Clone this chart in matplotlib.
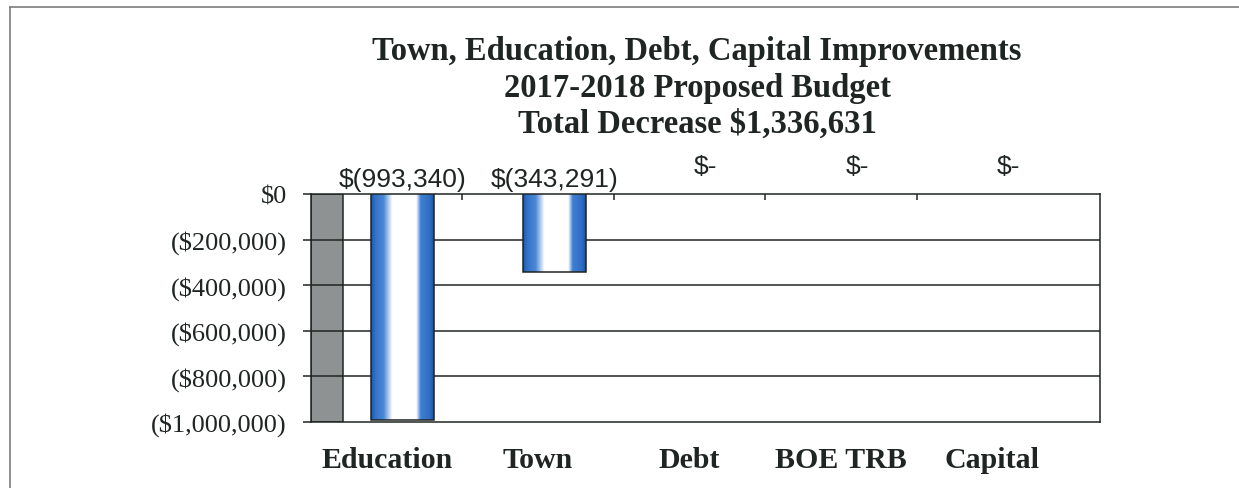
import numpy as np
import matplotlib.pyplot as plt
from matplotlib.colors import LinearSegmentedColormap
from matplotlib.patches import Rectangle
from matplotlib.lines import Line2D
from matplotlib import transforms

# budget changes by area
categories = ['Education', 'Town', 'Debt', 'BOE TRB', 'Capital']
changes = [-993340, -343291, 0, 0, 0]
value_labels = ['$(993,340)', '$(343,291)', '$-', '$-', '$-']

y_ticks = [0, -200000, -400000, -600000, -800000, -1000000]
y_tick_labels = ['$0', '($200,000)', '($400,000)', '($600,000)',
                 '($800,000)', '($1,000,000)']

title_lines = ['Town, Education, Debt, Capital Improvements',
               '2017-2018 Proposed Budget',
               'Total Decrease $1,336,631']

W, H = 1239, 489
ink = '#1f2522'
serif = 'Liberation Serif'
sans = 'Liberation Sans'

fig = plt.figure(figsize=(W / 100, H / 100), dpi=100)
fig.patch.set_facecolor('white')

# plot area in pixels
left_px, right_px = 311, 1100
top_px, bottom_px = 195, 422.5
ax = fig.add_axes([left_px / W, 1 - bottom_px / H,
                   (right_px - left_px) / W, (bottom_px - top_px) / H])

cat_px = 151.4           # width of one category slot
depth = 32 / cat_px      # side wall depth
bar_w = 63 / cat_px
xmax = -0.5 + (right_px - left_px) / cat_px

# side wall
ax.add_patch(Rectangle((-0.5, -1000000), depth, 1000000, facecolor='#8e9292',
                       edgecolor=ink, lw=1.1, zorder=1))

for y in y_ticks[1:-1]:
    ax.axhline(y, color=ink, lw=1.1, zorder=2)

# bars with the blue/white gradient fill
grad = LinearSegmentedColormap.from_list('bar', [
    (0.0, '#1d56a8'), (0.07, '#3373c8'), (0.2, '#4a88d6'),
    (0.34, '#ffffff'), (0.72, '#ffffff'), (0.79, '#3f7fd2'),
    (0.94, '#2e6cc2'), (1.0, '#1d52a0')])
row = np.linspace(0, 1, 256)[None, :]
for i, v in enumerate(changes):
    if v == 0:
        continue
    x0 = i - bar_w / 2 + depth / 2
    ax.imshow(row, cmap=grad, extent=(x0, x0 + bar_w, v, 0), aspect='auto',
              interpolation='bilinear', zorder=3)
    ax.add_patch(Rectangle((x0, v), bar_w, -v, facecolor='none',
                           edgecolor=ink, lw=1.1, zorder=4))

for i, (v, lab) in enumerate(zip(changes, value_labels)):
    off = 15 if v != 0 else 28
    ax.annotate(lab, xy=(i + depth / 2, 0), xytext=(0, off),
                textcoords='offset pixels', ha='center', va='center',
                fontsize=19, family=sans, color=ink, annotation_clip=False)

ax.set_xlim(-0.5, xmax)
ax.set_ylim(-1000000, 0)

for s in ax.spines.values():
    s.set_color(ink)
    s.set_linewidth(1.1)

ax.set_yticks(y_ticks, y_tick_labels)
ax.tick_params(axis='y', length=5.8, width=1.1, color=ink, pad=11.5,
               labelsize=19, labelcolor=ink)
for t in ax.get_yticklabels():
    t.set_family(serif)

# category boundary ticks on the zero line
ax.set_xticks(np.arange(len(categories) - 1) + 0.5)
ax.tick_params(axis='x', direction='in', top=True, bottom=False,
               labeltop=False, labelbottom=False, length=4.3, width=1.1,
               color=ink)

trans = transforms.blended_transform_factory(ax.transData, fig.transFigure)
for i, c in enumerate(categories):
    ax.text(i, 1 - 468 / H, c, transform=trans, ha='center', va='baseline',
            fontsize=21.5, fontweight='bold', family=serif, color=ink)

for line, base in zip(title_lines, [60, 97, 133]):
    fig.text(697 / W, 1 - base / H, line, ha='center', va='baseline',
             fontsize=23.5, fontweight='bold', family=serif, color=ink)

# outer border
fig.add_artist(Line2D([10 / W, 1], [1 - 8 / H] * 2, transform=fig.transFigure,
                      color='#7d7d7d', lw=1.2))
fig.add_artist(Line2D([10 / W] * 2, [0, 1 - 8 / H], transform=fig.transFigure,
                      color='#7d7d7d', lw=1.2))

fig.savefig('out.png', dpi=100)
